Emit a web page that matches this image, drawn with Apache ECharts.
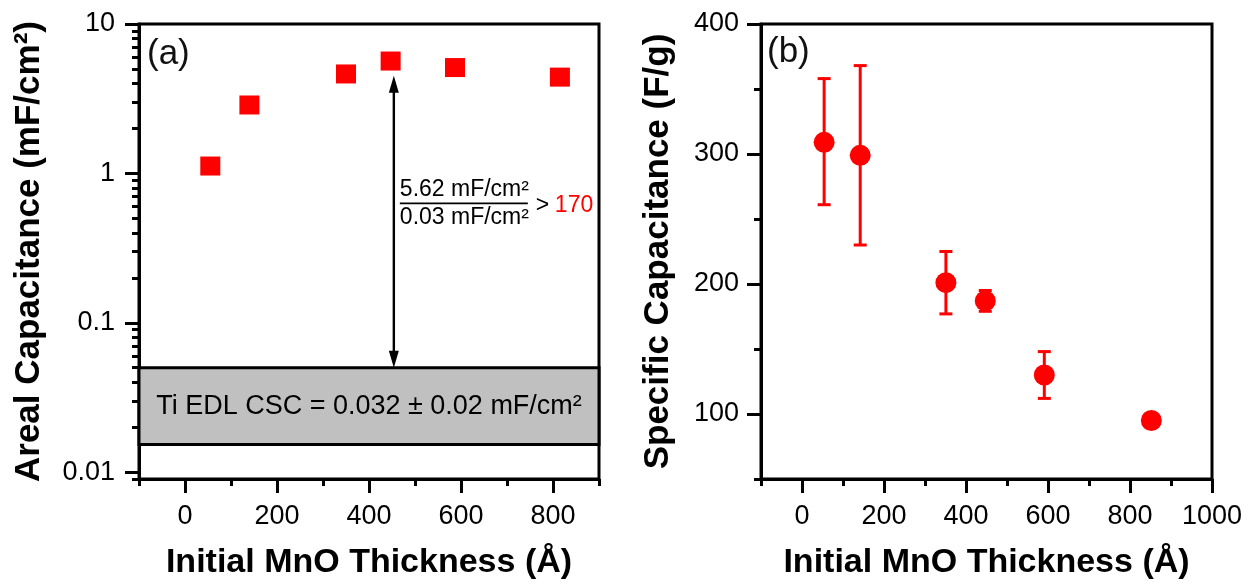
<!DOCTYPE html>
<html><head><meta charset="utf-8">
<script src="https://cdn.jsdelivr.net/npm/echarts@6/dist/echarts.min.js"></script>
<style>html,body{margin:0;padding:0;background:#fff}#c{width:1260px;height:586px}</style>
</head><body><div id="c"></div>
<script>
// ---------- data ----------
const thicknessA = [55, 140, 350, 447, 587, 815];
const arealCap = [1.12, 2.87, 4.63, 5.65, 5.11, 4.41];
const thicknessB = [54, 142, 351, 447, 591, 852];
const specCap = [309, 299, 201, 187, 130, 95];
const specCapLow = [261, 230, 177, 179, 112, 90];
const specCapHigh = [358, 368, 225, 195, 148, 100];
const tiBand = [0.0153, 0.05];
const bandLabel = 'Ti EDL CSC = 0.032 ± 0.02 mF/cm²';
const arrowSpan = [454, 4.5, 0.05];
const ratioAnchor = 0.63;
const ratioNum = '5.62 mF/cm²';
const ratioDen = '0.03 mF/cm²';
const ratioValue = '170';
const yTicksA = [0.01, 0.1, 1, 10];
const yMinorA = [0.009, 0.02, 0.03, 0.04, 0.05, 0.06, 0.07, 0.08, 0.09, 0.2, 0.3, 0.4, 0.5, 0.6, 0.7, 0.8, 0.9, 2, 3, 4, 5, 6, 7, 8, 9];
const xTicksA = [0, 200, 400, 600, 800];
const xMinorA = [-100, 100, 300, 500, 700, 900];
const xTicksB = [0, 200, 400, 600, 800, 1000];
const xMinorB = [-100, 100, 300, 500, 700, 900];
const yTicksB = [100, 200, 300, 400];
const yMinorB = [50, 150, 250, 350];
const xTitle = 'Initial MnO Thickness (Å)';
const yTitleA = 'Areal Capacitance (mF/cm²)';
const yTitleB = 'Specific Capacitance (F/g)';

// ---------- style ----------
const FONT = '"Liberation Sans", Arial, sans-serif';
const RED = '#ff0000';
const LW = 3;

function mainAxis(gridIndex, type, min, max, ticks, pos, margin, name, nameGap, nameSize) {
  return {
    type: type, gridIndex: gridIndex, min: min, max: max, position: pos,
    axisLine: {show: true, onZero: false, lineStyle: {color: '#000', width: LW}},
    axisTick: {show: true, customValues: ticks, length: 14, lineStyle: {color: '#000', width: LW}},
    axisLabel: {show: true, customValues: ticks, margin: margin, fontSize: 27, color: '#000', fontFamily: FONT,
      formatter: v => String(v)},
    splitLine: {show: false}, minorTick: {show: false},
    name: name, nameLocation: 'middle', nameGap: nameGap,
    nameTextStyle: {fontSize: nameSize, fontWeight: 'bold', color: '#000', fontFamily: FONT}
  };
}
function minorAxis(gridIndex, type, min, max, ticks, pos) {
  return {
    type: type, gridIndex: gridIndex, min: min, max: max, position: pos,
    axisLine: {show: false, onZero: false},
    axisTick: {show: true, customValues: ticks, length: 7, lineStyle: {color: '#000', width: LW}},
    axisLabel: {show: false}, splitLine: {show: false}
  };
}

const chart = echarts.init(document.getElementById('c'), null, {renderer: 'canvas'});
chart.setOption({
  backgroundColor: '#fff',
  animation: false,
  grid: [
    {left: 139, top: 24, width: 460, height: 455, show: true, borderColor: '#000', borderWidth: LW, backgroundColor: 'transparent', outerBoundsMode: 'none'},
    {left: 761, top: 24, width: 451, height: 455, show: true, borderColor: '#000', borderWidth: LW, backgroundColor: 'transparent', outerBoundsMode: 'none'}
  ],
  xAxis: [
    mainAxis(0, 'value', -100, 900, xTicksA, 'bottom', 24, xTitle, 67, 34),
    minorAxis(0, 'value', -100, 900, xMinorA, 'bottom'),
    mainAxis(1, 'value', -100, 1000, xTicksB, 'bottom', 24, xTitle, 67, 34),
    minorAxis(1, 'value', -100, 1000, xMinorB, 'bottom')
  ],
  yAxis: [
    Object.assign(mainAxis(0, 'log', 0.009, 10, yTicksA, 'left', 24, yTitleA, 92, 35), {logBase: 10}),
    Object.assign(minorAxis(0, 'log', 0.009, 10, yMinorA, 'left'), {logBase: 10}),
    mainAxis(1, 'value', 50, 400, yTicksB, 'left', 22, yTitleB, 85, 35),
    minorAxis(1, 'value', 50, 400, yMinorB, 'left')
  ],
  graphic: [
    {type: 'text', left: 147, top: 37, style: {text: '(a)', fontSize: 35, fontFamily: FONT, fill: '#111'}},
    {type: 'text', left: 767, top: 35, style: {text: '(b)', fontSize: 35, fontFamily: FONT, fill: '#111'}}
  ],
  series: [
    {
      type: 'scatter', xAxisIndex: 0, yAxisIndex: 0, z: 5,
      symbol: 'rect', symbolSize: [20, 19],
      itemStyle: {color: RED, opacity: 1},
      data: thicknessA.map((x, i) => [x, arealCap[i]]),
      markArea: {
        silent: true,
        itemStyle: {color: '#c0c0c0', borderColor: '#000', borderWidth: LW, opacity: 1},
        label: {show: true, position: 'inside', formatter: bandLabel, fontSize: 27, color: '#000', fontFamily: FONT},
        data: [[{xAxis: -100, yAxis: tiBand[1]}, {xAxis: 900, yAxis: tiBand[0]}]]
      }
    },
    {
      type: 'custom', xAxisIndex: 0, yAxisIndex: 0, z: 6, silent: true,
      data: [[arrowSpan[0], arrowSpan[1], arrowSpan[2], ratioAnchor]],
      renderItem: function (params, api) {
        const x = api.value(0);
        const top = api.coord([x, api.value(1)]);
        const bot = api.coord([x, api.value(2)]);
        const mid = api.coord([x, api.value(3)]);
        const hw = 5, hl = 17;
        const tf = {fontSize: 23, fontFamily: FONT, fill: '#000'};
        return {type: 'group', children: [
          {type: 'line', shape: {x1: top[0], y1: top[1] + hl - 2, x2: bot[0], y2: bot[1] - hl + 2}, style: {stroke: '#000', lineWidth: 2.4}},
          {type: 'polygon', shape: {points: [[top[0], top[1]], [top[0] - hw, top[1] + hl], [top[0] + hw, top[1] + hl]]}, style: {fill: '#000'}},
          {type: 'polygon', shape: {points: [[bot[0], bot[1]], [bot[0] - hw, bot[1] - hl], [bot[0] + hw, bot[1] - hl]]}, style: {fill: '#000'}},
          {type: 'line', shape: {x1: mid[0] + 6, y1: mid[1], x2: mid[0] + 134, y2: mid[1]}, style: {stroke: '#000', lineWidth: 1.8}},
          {type: 'text', x: mid[0] + 6, y: mid[1] - 2, style: Object.assign({text: ratioNum, align: 'left', verticalAlign: 'bottom'}, tf)},
          {type: 'text', x: mid[0] + 6, y: mid[1] + 3, style: Object.assign({text: ratioDen, align: 'left', verticalAlign: 'top'}, tf)},
          {type: 'text', x: mid[0] + 142, y: mid[1] + 2, style: Object.assign({text: '>', align: 'left', verticalAlign: 'middle'}, tf)},
          {type: 'text', x: mid[0] + 161, y: mid[1] + 2, style: Object.assign({}, tf, {text: ratioValue, align: 'left', verticalAlign: 'middle', fill: RED})}
        ]};
      }
    },
    {
      type: 'custom', xAxisIndex: 2, yAxisIndex: 2, z: 4, silent: true,
      encode: {x: 0, y: [1, 2]},
      data: thicknessB.map((x, i) => [x, specCapLow[i], specCapHigh[i]]),
      renderItem: function (params, api) {
        const x = api.value(0);
        const lo = api.coord([x, api.value(1)]);
        const hi = api.coord([x, api.value(2)]);
        const cw = 6.5;
        const st = {stroke: RED, lineWidth: LW};
        return {type: 'group', children: [
          {type: 'line', shape: {x1: lo[0], y1: lo[1], x2: hi[0], y2: hi[1]}, style: st},
          {type: 'line', shape: {x1: lo[0] - cw, y1: lo[1], x2: lo[0] + cw, y2: lo[1]}, style: st},
          {type: 'line', shape: {x1: hi[0] - cw, y1: hi[1], x2: hi[0] + cw, y2: hi[1]}, style: st}
        ]};
      }
    },
    {
      type: 'scatter', xAxisIndex: 2, yAxisIndex: 2, z: 5,
      symbol: 'circle', symbolSize: [21, 21],
      itemStyle: {color: RED, opacity: 1},
      data: thicknessB.map((x, i) => [x, specCap[i]])
    }
  ]
});
</script>
</body></html>
